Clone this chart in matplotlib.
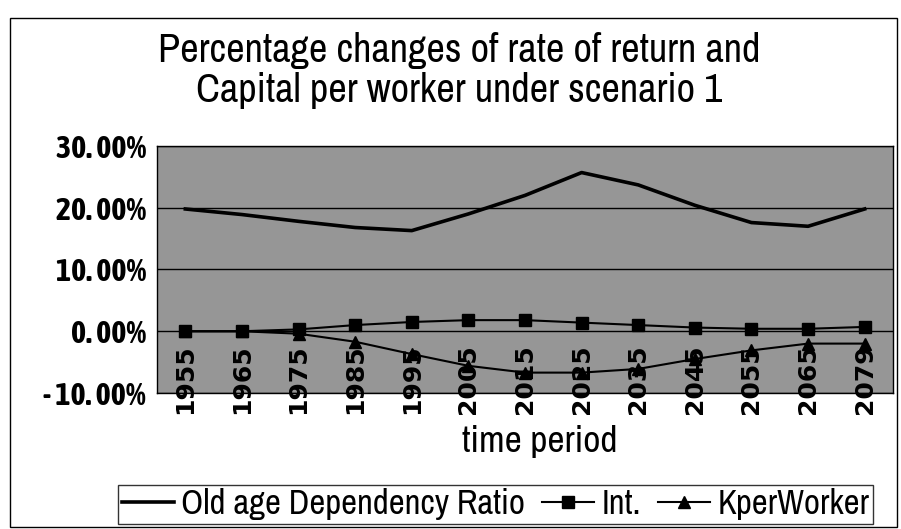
import matplotlib
matplotlib.use('Agg')
import matplotlib.pyplot as plt
from matplotlib.patches import Rectangle

plt.rcParams.update({
    'font.family': ['Archivo Narrow', 'Asap Condensed', 'DejaVu Sans'],
    'font.size': 20,
})

periods = ['1955', '1965', '1975', '1985', '1995', '2005', '2015',
           '2025', '2035', '2045', '2055', '2065', '2079']
old_age_ratio = [19.8, 18.9, 17.8, 16.8, 16.3, 19.0, 22.0,
                 25.7, 23.7, 20.4, 17.6, 17.0, 19.8]
interest = [0.0, 0.0, 0.3, 1.0, 1.5, 1.8, 1.8,
            1.4, 1.0, 0.6, 0.4, 0.4, 0.7]
k_per_worker = [0.0, 0.0, -0.4, -1.7, -3.7, -5.6, -6.7,
                -6.7, -6.1, -4.5, -3.1, -2.0, -2.0]
y_ticks = [-10, 0, 10, 20, 30]
y_labels = ['- 10. 00%', '0. 00%', '10. 00%', '20. 00%', '30. 00%']

fig = plt.figure(figsize=(9.01, 5.29), dpi=100)
ax = fig.add_axes([0.1743, 0.2571, 0.8168, 0.4669])
ax.set_facecolor('#969696')

x = list(range(len(periods)))
ax.plot(x, old_age_ratio, color='black', lw=2.6, label='Old age Dependency Ratio', zorder=3)
ax.plot(x, interest, color='black', lw=1.5, marker='s', markersize=8,
        label='Int.', zorder=3)
ax.plot(x, k_per_worker, color='black', lw=1.5, marker='^', markersize=8,
        label='KperWorker', zorder=3)

ax.set_xlim(-0.5, len(periods) - 0.5)
ax.set_ylim(-10, 30)
ax.set_yticks(y_ticks)
ax.set_yticklabels(y_labels, fontweight='bold', fontsize=23,
                   family=['Asap Condensed', 'DejaVu Sans'])
ax.set_xticks(x)
ax.set_xticklabels(periods, rotation=90, fontsize=18, fontweight='bold',
                   family='DejaVu Sans', va='top')
ax.tick_params(axis='x', length=0, pad=-35)
ax.tick_params(axis='y', length=0, pad=8)
ax.grid(axis='y', color='black', lw=1)
ax.grid(axis='x', visible=False)
for s in ax.spines.values():
    s.set_color('black')
    s.set_linewidth(1)

ax.set_xlabel('time period', fontsize=27)
ax.xaxis.set_label_coords(0.52, -0.13)

fig.text(0.51, 0.905, 'Percentage changes of rate of return and',
         ha='center', va='center', fontsize=29)
fig.text(0.51, 0.828, 'Capital per worker under scenario 1',
         ha='center', va='center', fontsize=29)

fig.legend(loc='center', bbox_to_anchor=(0.55, 0.047), ncol=3, frameon=True,
           fancybox=False, edgecolor='black', fontsize=25, handlelength=1.5,
           handletextpad=0.2, columnspacing=0.5, borderpad=0.1,
           borderaxespad=0)
leg = fig.legends[0]
leg.get_frame().set_linewidth(1)

fig.patches.append(Rectangle((0.011, 0.004), 0.985, 0.962, transform=fig.transFigure,
                             fill=False, edgecolor='black', lw=1))

fig.savefig('out.png', dpi=100, facecolor='white')
